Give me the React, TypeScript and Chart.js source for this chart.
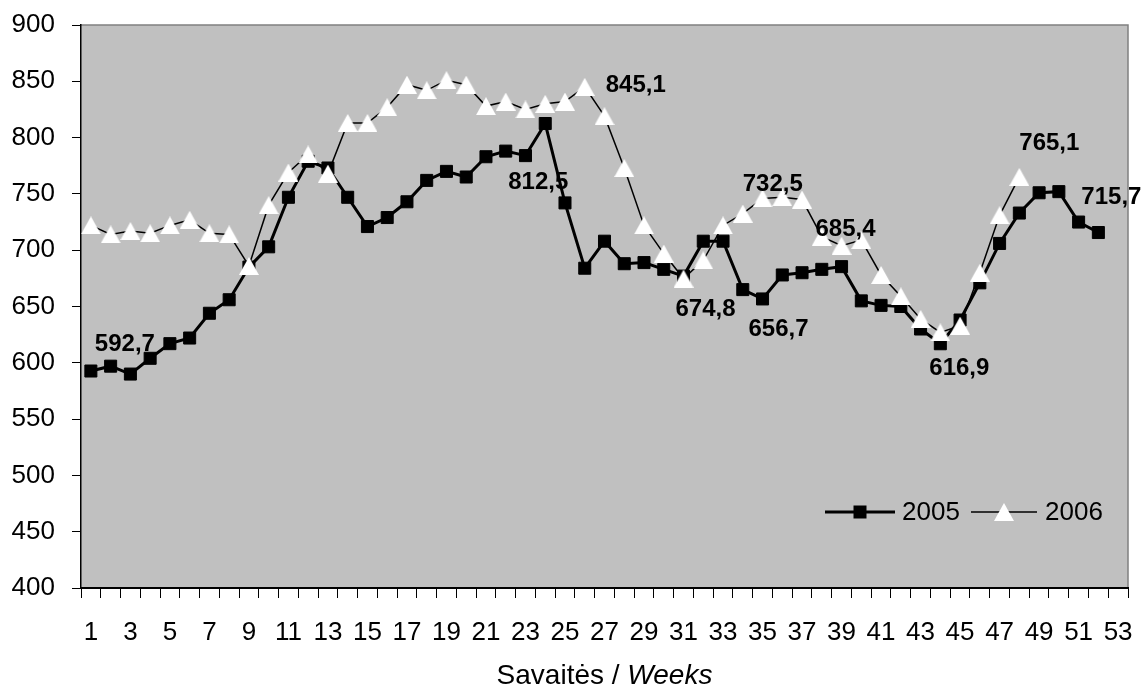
import React, { useEffect, useRef } from 'react';
import { Chart, registerables } from 'chart.js';

Chart.register(...registerables);

// ---- Data ----
const weeks = [
  '1', '2', '3', '4', '5', '6', '7', '8', '9', '10',
  '11', '12', '13', '14', '15', '16', '17', '18', '19', '20',
  '21', '22', '23', '24', '25', '26', '27', '28', '29', '30',
  '31', '32', '33', '34', '35', '36', '37', '38', '39', '40',
  '41', '42', '43', '44', '45', '46', '47', '48', '49', '50',
  '51', '52', '53',
];

const series2005 = [
  592.7, 597, 590, 604, 617, 622, 644, 656, 685, 703,
  747, 779, 773, 747, 721, 729, 743, 762, 770, 765,
  783, 788, 784, 812.5, 742, 684, 708, 688, 689, 683,
  677, 708, 708, 665, 656.7, 678, 680, 683, 685.4, 655,
  651, 650, 630, 616.9, 638, 671, 706, 733, 751, 752,
  725, 715.7,
];

const series2006 = [
  722, 714, 717, 715, 722, 727, 715, 714, 686, 740,
  769, 785, 768, 813, 813, 827, 847, 842, 851, 847,
  828, 832, 825, 830, 832, 845.1, 819, 773, 722, 697,
  674.8, 691, 722, 732.5, 746, 747, 745, 712, 704, 709,
  678, 659, 639, 627, 633, 680, 731, 765.1,
];

const seriesNames = ['2005', '2006'];
const yTicks = { min: 400, max: 900, step: 50 };

// annotated points: [series index, week number]
const annotated: [number, number][] = [
  [0, 1], [0, 24], [1, 26], [1, 31], [0, 35], [1, 34], [0, 39], [0, 44], [1, 48], [0, 52],
];
// label offsets (layout only) in px relative to point
const annotOffsets: [number, number][] = [
  [34, -27], [-7, 59], [51, -1], [22, 31], [16, 30], [30, -29], [4, -37], [19, 25], [30, -34], [13, -35],
];

const FONT = '"Liberation Sans", Arial, Helvetica, sans-serif';

function makeTriangle(): HTMLCanvasElement {
  const c = document.createElement('canvas');
  c.width = 20;
  c.height = 18;
  const g = c.getContext('2d')!;
  g.fillStyle = '#ffffff';
  g.beginPath();
  g.moveTo(10, 0);
  g.lineTo(20, 18);
  g.lineTo(0, 18);
  g.closePath();
  g.fill();
  return c;
}

function zeroPad(scale: any) {
  scale.paddingLeft = 0;
  scale.paddingRight = 0;
  scale.paddingTop = 0;
  scale.paddingBottom = 0;
}

export default function App() {
  const ref = useRef<HTMLCanvasElement | null>(null);

  useEffect(() => {
    if (!ref.current) return;
    const tri = makeTriangle();

    const bgPlugin = {
      id: 'bgPlot',
      beforeDraw(chart: any) {
        const { ctx, chartArea } = chart;
        const { left, top, right, bottom } = chartArea;
        ctx.save();
        ctx.fillStyle = '#c0c0c0';
        ctx.fillRect(left, top, right - left, bottom - top);
        ctx.strokeStyle = '#808080';
        ctx.lineWidth = 1.5;
        ctx.beginPath();
        ctx.moveTo(left, top);
        ctx.lineTo(right, top);
        ctx.lineTo(right, bottom);
        ctx.stroke();
        ctx.restore();
      },
    };

    const labelsPlugin = {
      id: 'valueLabels',
      afterDatasetsDraw(chart: any) {
        const { ctx } = chart;
        const src = [series2005, series2006];
        ctx.save();
        ctx.font = `bold 24px ${FONT}`;
        ctx.fillStyle = '#000';
        ctx.textAlign = 'center';
        ctx.textBaseline = 'middle';
        annotated.forEach(([s, w], i) => {
          const meta = chart.getDatasetMeta(s);
          const pt = meta.data[w - 1];
          if (!pt) return;
          const v = src[s][w - 1];
          const txt = v.toFixed(1).replace('.', ',');
          const [dx, dy] = annotOffsets[i];
          ctx.fillText(txt, pt.x + dx, pt.y + dy);
        });
        ctx.restore();
      },
      afterDraw(chart: any) {
        const { ctx, chartArea } = chart;
        ctx.save();
        // Legend
        const ly = chartArea.bottom - 76;
        const lx = chartArea.right - 303;
        ctx.strokeStyle = '#000';
        ctx.lineWidth = 3;
        ctx.beginPath();
        ctx.moveTo(lx, ly);
        ctx.lineTo(lx + 70, ly);
        ctx.stroke();
        ctx.fillStyle = '#000';
        ctx.fillRect(lx + 35 - 6.5, ly - 6.5, 13, 13);
        ctx.font = `26px ${FONT}`;
        ctx.textAlign = 'left';
        ctx.textBaseline = 'middle';
        ctx.fillText(seriesNames[0], lx + 77, ly + 1);
        ctx.lineWidth = 1.5;
        ctx.beginPath();
        ctx.moveTo(lx + 146, ly);
        ctx.lineTo(lx + 212, ly);
        ctx.stroke();
        ctx.drawImage(tri, lx + 179 - 10, ly - 9);
        ctx.fillStyle = '#000';
        ctx.fillText(seriesNames[1], lx + 220, ly + 1);

        // Axis title with italic part
        const p1 = 'Savaitės / ';
        const p2 = 'Weeks';
        ctx.font = `28px ${FONT}`;
        const w1 = ctx.measureText(p1).width;
        ctx.font = `italic 28px ${FONT}`;
        const w2 = ctx.measureText(p2).width;
        const cx = (chartArea.left + chartArea.right) / 2;
        const ty = 676;
        const sx = cx - (w1 + w2) / 2;
        ctx.font = `28px ${FONT}`;
        ctx.fillText(p1, sx, ty);
        ctx.font = `italic 28px ${FONT}`;
        ctx.fillText(p2, sx + w1, ty);
        ctx.restore();
      },
    };

    const chart = new Chart(ref.current, {
      type: 'line',
      data: {
        labels: weeks,
        datasets: [
          {
            label: seriesNames[0],
            data: series2005,
            borderColor: '#000',
            borderWidth: 3,
            backgroundColor: '#000',
            pointStyle: 'rect',
            pointRadius: 8.5,
            pointBorderWidth: 1,
            pointBorderColor: '#000',
            pointBackgroundColor: '#000',
            tension: 0,
            fill: false,
            order: 2,
            clip: false as any,
          },
          {
            label: seriesNames[1],
            data: series2006,
            borderColor: '#000',
            borderWidth: 1.5,
            backgroundColor: '#fff',
            pointStyle: tri as any,
            pointRadius: 10,
            tension: 0,
            fill: false,
            order: 1,
            clip: false as any,
          },
        ],
      },
      options: {
        animation: false,
        responsive: false,
        maintainAspectRatio: false,
        layout: { padding: { left: 0, top: 25, right: 13, bottom: 0 } },
        plugins: {
          legend: { display: false },
          tooltip: { enabled: false },
          title: { display: false },
        },
        scales: {
          x: {
            type: 'category',
            offset: true,
            grid: {
              offset: true,
              drawOnChartArea: false,
              drawTicks: true,
              tickLength: 10,
              color: '#000',
              lineWidth: 1,
            },
            border: { display: true, color: '#000', width: 2 },
            ticks: {
              autoSkip: false,
              maxRotation: 0,
              minRotation: 0,
              padding: 19,
              color: '#000',
              font: { family: FONT, size: 26 },
              callback: (_v: any, idx: number) => (idx % 2 === 0 ? weeks[idx] : ''),
            },
            afterFit: (scale: any) => {
              scale.height = 103;
              zeroPad(scale);
            },
          },
          y: {
            min: yTicks.min,
            max: yTicks.max,
            grid: {
              drawOnChartArea: false,
              drawTicks: true,
              tickLength: 9,
              color: '#000',
              lineWidth: 1,
            },
            border: { display: true, color: '#000', width: 1.5 },
            ticks: {
              stepSize: yTicks.step,
              padding: 17,
              color: '#000',
              font: { family: FONT, size: 26 },
            },
            afterFit: (scale: any) => {
              scale.width = 81;
              zeroPad(scale);
            },
          },
        },
      },
      plugins: [bgPlugin, labelsPlugin],
    });

    return () => chart.destroy();
  }, []);

  return (
    <div style={{ position: 'fixed', left: 0, top: 0, width: 1141, height: 691, background: '#fff' }}>
      <canvas ref={ref} width={1141} height={691} style={{ display: 'block' }} />
    </div>
  );
}
